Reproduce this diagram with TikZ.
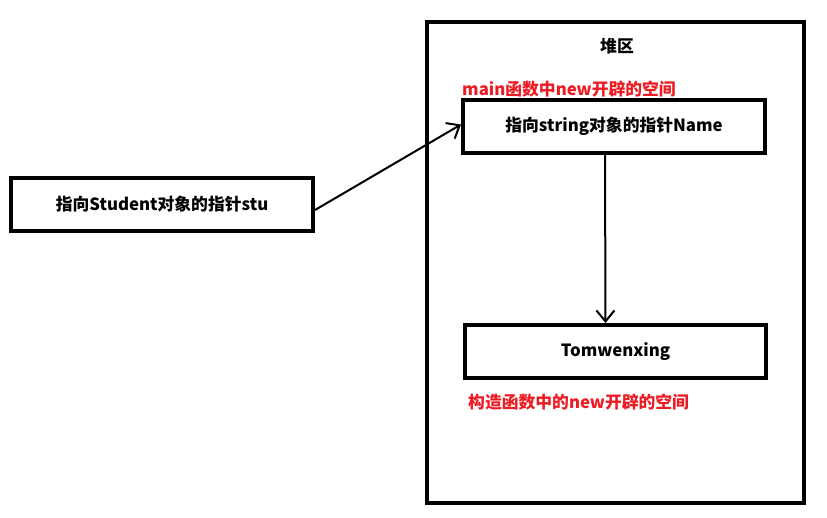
\documentclass[tikz,border=0pt]{standalone}
\usepackage{fontspec}
\usepackage{tikz}
\usetikzlibrary{arrows.meta}
\newfontfamily\cjk{Noto Sans CJK SC}
\definecolor{memred}{HTML}{ED1C24}
\tikzset{
  ptrbox/.style={draw, line width=4pt, minimum height=53pt, inner sep=0pt},
  lbl/.style={font=\cjk\bfseries\fontsize{16.8}{19}\selectfont},
  note/.style={lbl, text=memred},
  ptr/.style={line width=2pt, -{Straight Barb[length=11pt,width=18pt,line width=2pt]}}
}

\begin{document}
\begin{tikzpicture}[x=1pt,y=-1pt]
  \useasboundingbox (0,0) rectangle (827,517);
  % heap area
  \node[draw, line width=4pt, minimum width=377pt, minimum height=481pt, inner sep=0pt] (heap) at (615.5,262.5) {};
  \node[lbl] (heaptitle) at (617,46) {堆区};
  % boxes
  \node[ptrbox, lbl, minimum width=302pt] (stu) at (162,204) {指向Student对象的指针stu};
  \node[ptrbox, lbl, minimum width=302pt] (name) at (614,126.5) {指向string对象的指针Name};
  \node[ptrbox, lbl, minimum width=301pt] (tom) at (615.5,351.5) {Tomwenxing};
  % red notes
  \node[note, anchor=south west, inner sep=0pt] (mainnote) at (462,97) {main函数中new开辟的空间};
  \node[note, anchor=north west, inner sep=0pt] (ctornote) at (468,394) {构造函数中的new开辟的空间};
  % pointers
  \draw[ptr] ([yshift=-6pt]stu.east) -- ([yshift=2pt]name.west);
  \draw[ptr] ([xshift=-9pt]name.south) -- ([xshift=-10pt]tom.north);
\end{tikzpicture}
\end{document}
